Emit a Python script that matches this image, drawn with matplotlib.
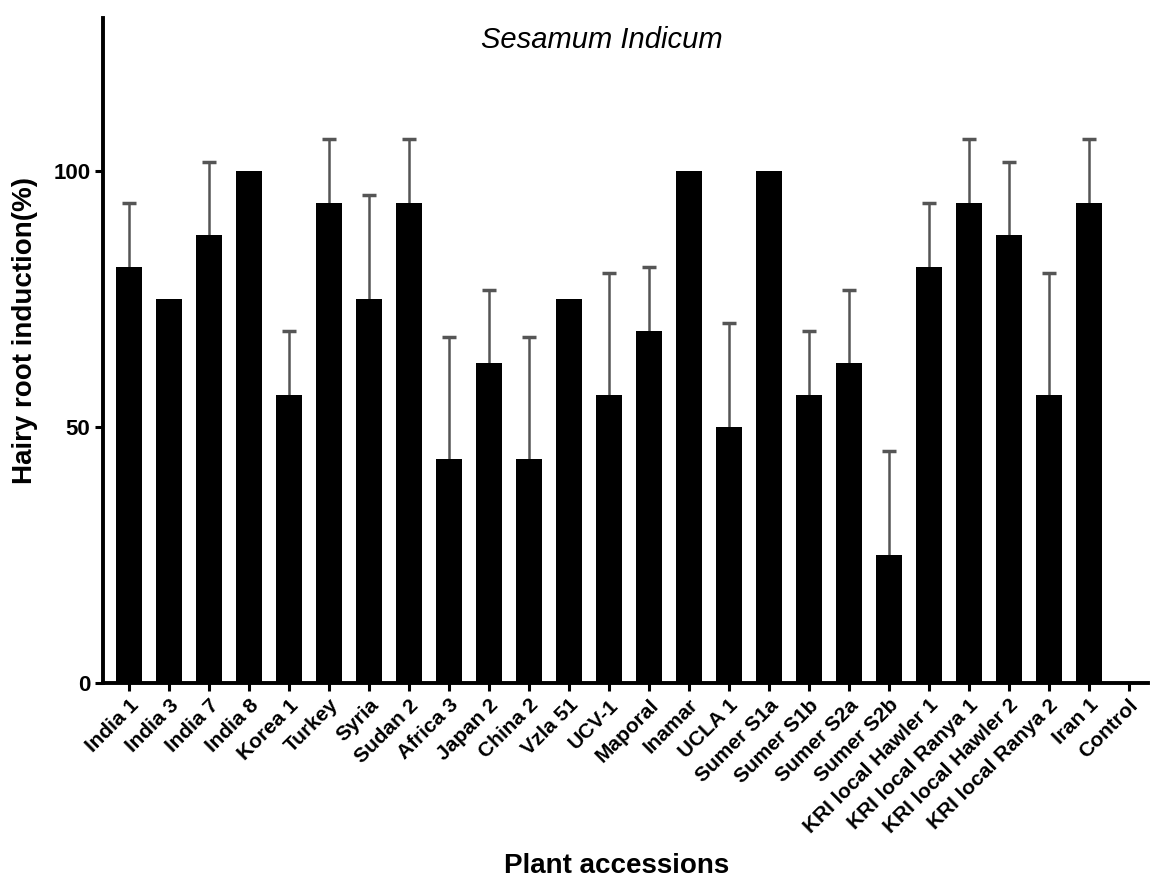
import matplotlib
matplotlib.use("Agg")
import matplotlib.pyplot as plt
import numpy as np

accessions = [
    "India 1", "India 3", "India 7", "India 8", "Korea 1", "Turkey", "Syria",
    "Sudan 2", "Africa 3", "Japan 2", "China 2", "Vzla 51", "UCV-1", "Maporal",
    "Inamar", "UCLA 1", "Sumer S1a", "Sumer S1b", "Sumer S2a", "Sumer S2b",
    "KRI local Hawler 1", "KRI local Ranya 1", "KRI local Hawler 2",
    "KRI local Ranya 2", "Iran 1", "Control",
]
induction = [
    81.25, 75, 87.5, 100, 56.25, 93.75, 75, 93.75, 43.75, 62.5, 43.75, 75,
    56.25, 68.75, 100, 50, 100, 56.25, 62.5, 25, 81.25, 93.75, 87.5, 56.25,
    93.75, 0,
]
error = [
    12.5, 0, 14.4, 0, 12.5, 12.5, 20.4, 12.5, 23.9, 14.4, 23.9, 0,
    23.9, 12.5, 0, 20.4, 0, 12.5, 14.4, 20.4, 12.5, 12.5, 14.4, 23.9,
    12.5, 0,
]

plt.rcParams["font.family"] = ["Liberation Sans", "DejaVu Sans"]

fig = plt.figure(figsize=(11.5, 8.81), dpi=100)
ax = fig.add_axes([0.0896, 0.2247, 0.9084, 0.755])

x = np.arange(len(accessions))
vals = np.array(induction)
errs = np.array(error)
has_err = errs > 0

ax.bar(x, vals, width=0.65, color="black", zorder=2)
# upper error only
line, caps, bars = ax.errorbar(
    x[has_err], vals[has_err], yerr=[np.zeros(has_err.sum()), errs[has_err]],
    fmt="none", ecolor="#555555", elinewidth=1.8, capsize=5, capthick=2.5,
    zorder=1)
caps[0].set_visible(False)
caps[1].set_color("black")

ax.set_xlim(-0.65, 25.48)
ax.set_ylim(0, 130)
ax.set_yticks([0, 50, 100])
ax.set_xticks(x)
ax.set_xticklabels(accessions, rotation=45, ha="right", rotation_mode="anchor",
                   fontsize=15, fontweight="bold")
for lbl in ax.get_yticklabels():
    lbl.set_fontweight("bold")
    lbl.set_fontsize(16)

for side in ["top", "right"]:
    ax.spines[side].set_visible(False)
ax.spines["left"].set_linewidth(2.8)
ax.spines["bottom"].set_linewidth(2.8)
ax.tick_params(axis="both", direction="out", length=6, width=2.2, pad=3)

ax.set_ylabel("Hairy root induction(%)", fontsize=20, fontweight="bold")
ax.yaxis.set_label_coords(-0.062, 0.53)
fig.text(0.5365, 0.017, "Plant accessions", fontsize=20, fontweight="bold",
         ha="center", va="center")
fig.text(0.523, 0.955, "Sesamum Indicum", fontsize=21, style="italic",
         ha="center", va="center")

fig.savefig("out.png", dpi=100)
